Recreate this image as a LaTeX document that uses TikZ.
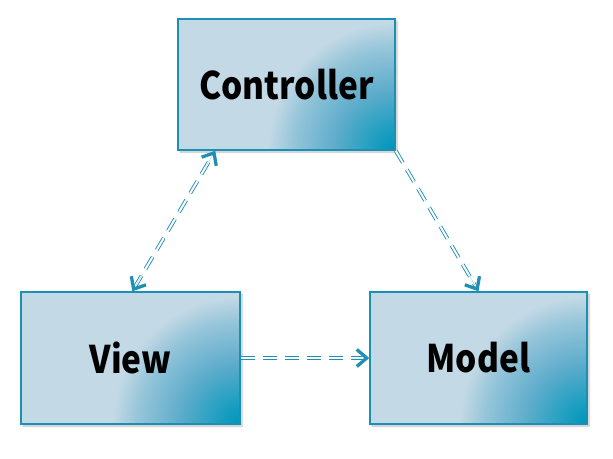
\documentclass[tikz,border=0pt]{standalone}
\usepackage{fontspec}
\newfontfamily\labfont{Noto Sans CJK JP}[FakeStretch=0.88]
\usetikzlibrary{arrows.meta,calc,shadows.blur}
\definecolor{boxlight}{HTML}{C3D9E5}
\definecolor{boxmid}{HTML}{5DACCB}
\definecolor{boxdark}{HTML}{0096BB}
\definecolor{edgecol}{HTML}{1A91B4}
\definecolor{arrcol}{HTML}{2090B2}
\pgfdeclareradialshading{cornerglow}{\pgfpoint{0bp}{0bp}}{%
  color(0bp)=(boxdark); color(1.2bp)=(boxdark!92!boxlight); color(5bp)=(boxmid); color(8.5bp)=(boxmid!45!boxlight); color(10.6bp)=(boxlight); color(50bp)=(boxlight)}
\tikzset{
  mvcbox/.style={draw=edgecol, line width=1.4pt, fill=boxlight,
    minimum width=217pt, minimum height=131pt, inner sep=0pt,
    font=\labfont\bfseries\fontsize{38}{42}\selectfont, text=black,
    blur shadow={shadow xshift=2pt, shadow yshift=-2pt, shadow blur steps=6, shadow opacity=25},
    path picture={\fill[shading=cornerglow] (path picture bounding box.south east) circle (300pt);}},
  dline/.style={draw=arrcol, line width=0.9pt, double=white, double distance=2pt, dash pattern=on 14pt off 8pt},
  tip/.style={draw=arrcol, line width=0.01pt, -{Straight Barb[length=10pt,width=17pt,line width=3.3pt]}}
}
\begin{document}
\begin{tikzpicture}[x=1pt,y=-1pt]
\useasboundingbox (0,0) rectangle (613,458);
\node[mvcbox] (C) at (286.5,84.5) {Controller};
\node[mvcbox, minimum width=219pt, minimum height=132pt] (V) at (130.5,358) {View};
\node[mvcbox, minimum height=132pt] (M) at (478.5,358) {Model};
% connector View <-> Controller
\coordinate (vc1) at ($(V.north west)+(112,0)$);
\coordinate (vc2) at ($(C.south west)+(38,0)$);
\draw[dline] ($(vc1)!4pt!(vc2)$) -- ($(vc2)!4pt!(vc1)$);
\draw[tip] ($(vc1)!20pt!(vc2)$) -- (vc1);
\draw[tip] ($(vc2)!20pt!(vc1)$) -- (vc2);
% Controller -> Model
\coordinate (cm1) at (C.south east);
\coordinate (cm2) at (M.north);
\draw[dline] (cm1) -- ($(cm2)!4pt!(cm1)$);
\draw[tip] ($(cm2)!20pt!(cm1)$) -- (cm2);
% View -> Model
\draw[dline] (V.east) -- ($(M.west)+(-4,0)$);
\draw[tip] ($(M.west)+(-20,0)$) -- (M.west);
\end{tikzpicture}
\end{document}
